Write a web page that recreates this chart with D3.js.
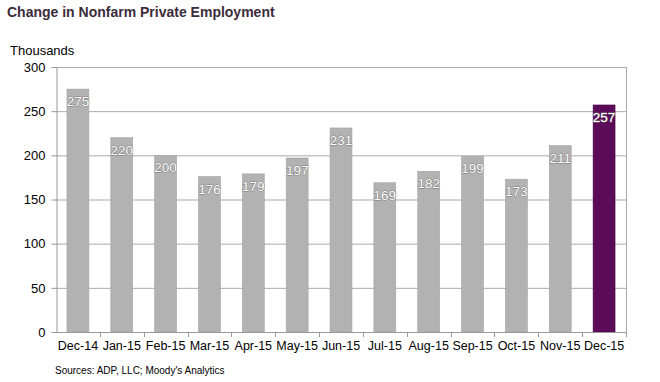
<!DOCTYPE html>
<html><head><meta charset="utf-8">
<script src="https://cdn.jsdelivr.net/npm/d3@7"></script>
<style>
body{margin:0;background:#fff;}
svg{display:block;font-family:"Liberation Sans",Arial,sans-serif;}
</style></head>
<body><svg id="c" width="660" height="382"></svg>
<script>
const categories = ["Dec-14","Jan-15","Feb-15","Mar-15","Apr-15","May-15","Jun-15","Jul-15","Aug-15","Sep-15","Oct-15","Nov-15","Dec-15"];
const values = [275,220,200,176,179,197,231,169,182,199,173,211,257];
const yTicks = [0,50,100,150,200,250,300];

const svg = d3.select("#c");
const L = 56, R = 626, T = 67, B = 332;
const x = d3.scaleBand().domain(categories).range([L, R]).paddingInner(0.5).paddingOuter(0.25);
const xb = d3.scaleBand().domain(categories).range([L, R]);
const y = d3.scaleLinear().domain([0,300]).range([B, T]);

svg.append("text").attr("x",7).attr("y",17).attr("font-size",14).attr("font-weight","bold")
  .attr("fill","#3b2b3b").text("Change in Nonfarm Private Employment");
svg.append("text").attr("x",10).attr("y",55).attr("font-size",13).attr("fill","#000").text("Thousands");

// gridlines
svg.append("g").selectAll("line").data(yTicks.filter(d=>d>0)).join("line")
  .attr("x1",L).attr("x2",R).attr("y1",d=>y(d)+0.5).attr("y2",d=>y(d)+0.5)
  .attr("stroke","#aaa").attr("stroke-width",1);
// right border
svg.append("line").attr("x1",R+0.5).attr("x2",R+0.5).attr("y1",T).attr("y2",B).attr("stroke","#aaa");

// bars
svg.append("g").selectAll("rect").data(values).join("rect")
  .attr("x",(d,i)=>x(categories[i]))
  .attr("width",x.bandwidth())
  .attr("y",d=>y(d))
  .attr("height",d=>B-y(d))
  .attr("fill",(d,i)=>i===values.length-1?"#5c0b59":"#b2b2b2")
  .attr("stroke",(d,i)=>i===values.length-1?"#4a0848":"#a4a4a4").attr("stroke-width",0.6);

// value labels
svg.append("g").selectAll("text").data(values).join("text")
  .attr("x",(d,i)=>x(categories[i])+x.bandwidth()/2)
  .attr("y",d=>y(d)+17)
  .attr("text-anchor","middle").attr("font-size",13.5)
  .attr("fill","#fff").attr("stroke","#7a7a7a").attr("stroke-width",0.9)
  .attr("paint-order","stroke").attr("stroke-linejoin","round")
  .text(d=>d);

// y axis
const yAxis = svg.append("g").attr("transform",`translate(${L+0.5},0)`)
  .call(d3.axisLeft(y).tickValues(yTicks).tickSize(5).tickPadding(6));
yAxis.select(".domain").attr("stroke","#999");
yAxis.selectAll(".tick line").attr("stroke","#999");
yAxis.selectAll(".tick text").attr("font-size",13).attr("fill","#000").attr("font-family","Liberation Sans, Arial, sans-serif");

// x axis
const xAxis = svg.append("g").attr("transform",`translate(0,${B+0.5})`)
  .call(d3.axisBottom(xb).tickSize(0).tickPadding(9));
xAxis.select(".domain").attr("stroke","#999").attr("d",`M${L},0H${R}`);
xAxis.selectAll(".tick text").attr("font-size",12.5).attr("fill","#000").attr("font-family","Liberation Sans, Arial, sans-serif");
svg.append("g").selectAll("line").data(categories.slice(1).concat(["end"])).join("line")
  .attr("x1",(d,i)=>Math.round(L+xb.step()*(i+1))+0.5)
  .attr("x2",(d,i)=>Math.round(L+xb.step()*(i+1))+0.5)
  .attr("y1",B).attr("y2",B+5).attr("stroke","#999");

svg.append("text").attr("x",55).attr("y",374).attr("font-size",10).attr("fill","#000")
  .text("Sources: ADP, LLC; Moody's Analytics");
</script></body></html>
